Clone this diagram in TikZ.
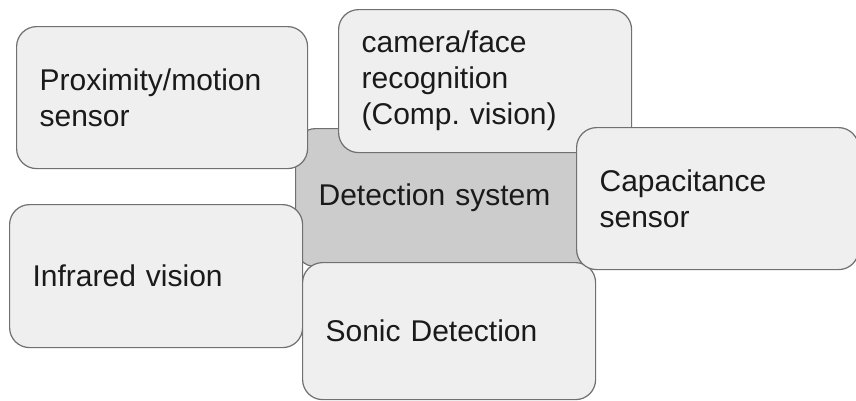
\documentclass[tikz,border=0pt]{standalone}
\usepackage{fontspec}
\setmainfont{Liberation Sans}
\definecolor{boxfill}{HTML}{EFEFEF}
\definecolor{centerfill}{HTML}{CCCCCC}
\definecolor{boxline}{HTML}{707070}
\definecolor{txt}{HTML}{1A1A1A}
\frenchspacing
\begin{document}
\begin{tikzpicture}[x=1pt,y=-1pt,
  sbox/.style={draw=boxline, line width=1.2pt, fill=boxfill, rounded corners=20pt,
    anchor=north west, inner xsep=23pt, inner ysep=0pt, align=left,
    text=txt, font=\fontsize{30}{36}\selectfont\frenchspacing},
  cbox/.style={sbox, fill=centerfill}]
\useasboundingbox (0,0) rectangle (856,400);
\fill[white] (0,0) rectangle (856,400);
\node[cbox, text width=249pt, minimum height=138pt] (det) at (295,128) {Detection system};
\node[sbox, text width=245pt, minimum height=142pt] (prox) at (16,26) {Proximity/motion\\sensor};
\node[sbox, text width=247pt, minimum height=143pt] (cam) at (338,9) {camera/face\\recognition\\(Comp. vision)};
\node[sbox, text width=247pt, minimum height=143pt] (ir) at (9,204) {Infrared vision};
\node[sbox, text width=247pt, minimum height=137pt] (sonic) at (302,262) {Sonic Detection};
\node[sbox, text width=236pt, minimum height=142pt] (cap) at (576,127) {Capacitance\\sensor};
\end{tikzpicture}
\end{document}
